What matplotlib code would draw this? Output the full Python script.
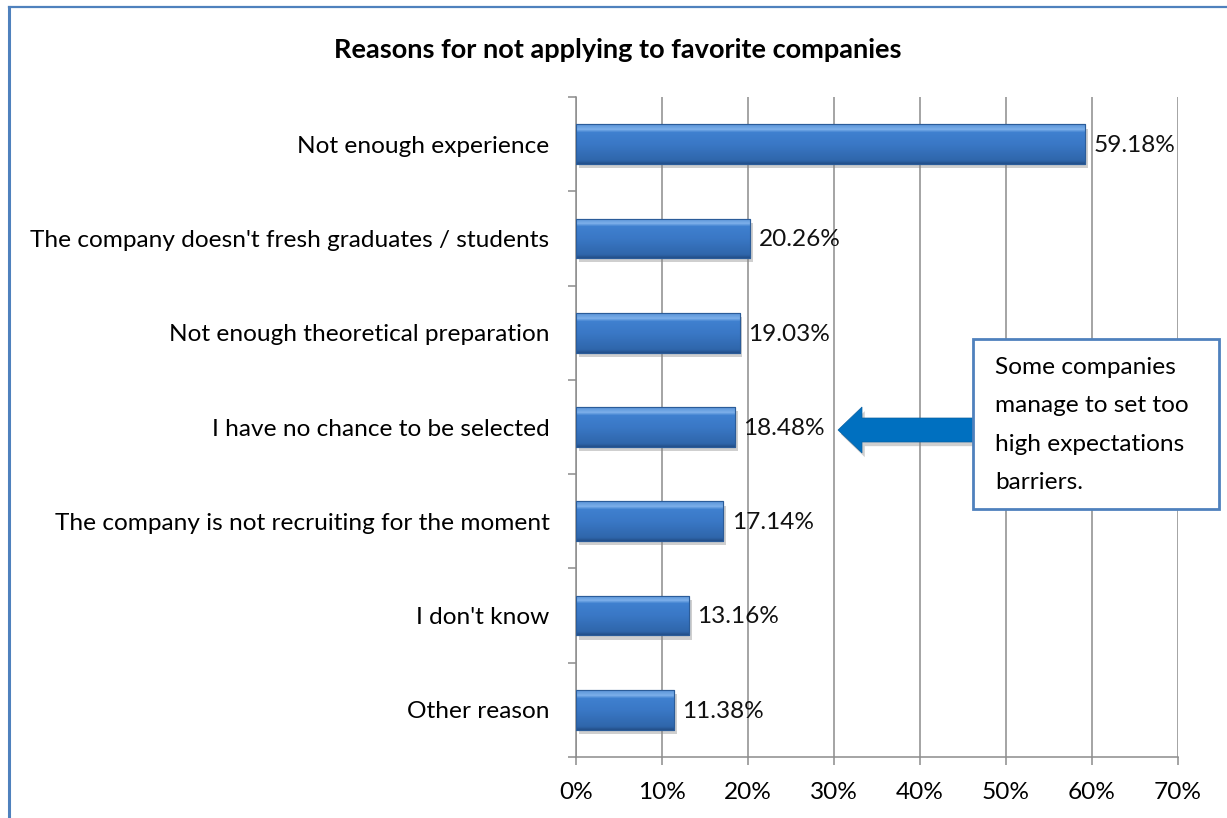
import matplotlib.pyplot as plt
import numpy as np
from matplotlib.patches import Rectangle, FancyArrow
from matplotlib.lines import Line2D
from matplotlib.colors import LinearSegmentedColormap
import matplotlib.patheffects as pe

# Data
categories = [
    "Not enough experience",
    "The company doesn't fresh graduates / students",
    "Not enough theoretical preparation",
    "I have no chance to be selected",
    "The company is not recruiting for the moment",
    "I don't know",
    "Other reason",
]
values = [59.18, 20.26, 19.03, 18.48, 17.14, 13.16, 11.38]
xticks = [0, 10, 20, 30, 40, 50, 60, 70]
title = "Reasons for not applying to favorite companies"
note = "Some companies\nmanage to set too\nhigh expectations\nbarriers."

plt.rcParams["font.family"] = ["Lato", "DejaVu Sans"]
FS = 17.6

fig = plt.figure(figsize=(12.27, 8.18), dpi=100)
W, H = 1227, 818
ax = fig.add_axes([576 / W, 1 - 757 / H, (1178 - 576) / W, (757 - 97) / H])

n = len(categories)
y = np.arange(n)[::-1] + 0.5
bars = ax.barh(y, values, height=0.42, color="#3c7bc8", edgecolor="#2b5c99",
               linewidth=0.8, zorder=3)

# bevel-like gradient inside each bar
cmap = LinearSegmentedColormap.from_list(
    "bev", [(0.0, "#24508a"), (0.08, "#2f66ab"), (0.5, "#3a78c6"),
            (0.8, "#3f80cf"), (0.87, "#7db0ea"), (1.0, "#5a93d8")])
shadow = [pe.SimplePatchShadow(offset=(2, -3), shadow_rgbFace="#888888", alpha=0.4), pe.Normal()]
for b in bars:
    b.set_path_effects(shadow)
    x0, y0 = b.get_x(), b.get_y()
    im = ax.imshow(np.linspace(0, 1, 60).reshape(-1, 1), cmap=cmap, aspect="auto",
                   origin="lower", extent=(x0, x0 + b.get_width(), y0, y0 + b.get_height()),
                   zorder=4)
    im.set_clip_path(b)
    ax.add_patch(Rectangle((x0, y0), b.get_width(), b.get_height(), fill=False,
                           edgecolor="#2b5c99", linewidth=0.8, zorder=5))

for yy, v in zip(y, values):
    ax.annotate(f"{v:.2f}%", (v, yy), xytext=(6, -1), textcoords="offset points",
                va="center", ha="left", fontsize=FS, color="#111111", zorder=6)

ax.set_xlim(0, 70)
ax.set_ylim(0, n)
ax.set_xticks(xticks)
ax.set_xticklabels([f"{t}%" for t in xticks], fontsize=FS)
ax.set_yticks(np.arange(n + 1))
ax.set_yticklabels([])
ax.set_yticks(y, minor=True)
ax.set_yticklabels(categories, minor=True, fontsize=FS)
ax.tick_params(axis="y", which="major", length=6, color="#8c8c8c", width=1.1)
ax.tick_params(axis="y", which="minor", length=0, pad=19)
ax.tick_params(axis="x", length=6, color="#8c8c8c", width=1.1, pad=12)
ax.grid(axis="x", color="#8c8c8c", linewidth=1.1, zorder=0)
ax.set_axisbelow(True)
for s in ["top", "right"]:
    ax.spines[s].set_visible(False)
for s in ["left", "bottom"]:
    ax.spines[s].set_color("#8c8c8c")
    ax.spines[s].set_linewidth(1.1)

fig.text(618 / W, 1 - 50 / H, title, ha="center", va="center",
         fontsize=19.5, fontweight="bold")

# outer chart border
fig.add_artist(Line2D([9 / W, 9 / W], [0, 1 - 7 / H], color="#4f81bd", linewidth=2.2,
                      transform=fig.transFigure))
fig.add_artist(Line2D([9 / W, 1], [1 - 7 / H, 1 - 7 / H], color="#4f81bd", linewidth=1.6,
                      transform=fig.transFigure))

# callout box and arrow
fig.add_artist(Rectangle((973 / W, 1 - 509 / H), (1219 - 973) / W, (509 - 339) / H,
                         transform=fig.transFigure, facecolor="white",
                         edgecolor="#4f81bd", linewidth=2, zorder=10))
fig.text(995 / W, 1 - 357 / H, note, ha="left", va="top", fontsize=FS,
         linespacing=2.02, zorder=11)
arr = FancyArrow(9.73, (H - 430) / 100, -(973 - 838) / 100, 0, width=0.24,
                 head_width=0.46, head_length=0.24, length_includes_head=True,
                 transform=fig.dpi_scale_trans, facecolor="#0070c0",
                 edgecolor="#0a5fa0", linewidth=0.5, zorder=9)
arr.set_path_effects(shadow)
fig.add_artist(arr)

fig.savefig("out.png", dpi=100)
